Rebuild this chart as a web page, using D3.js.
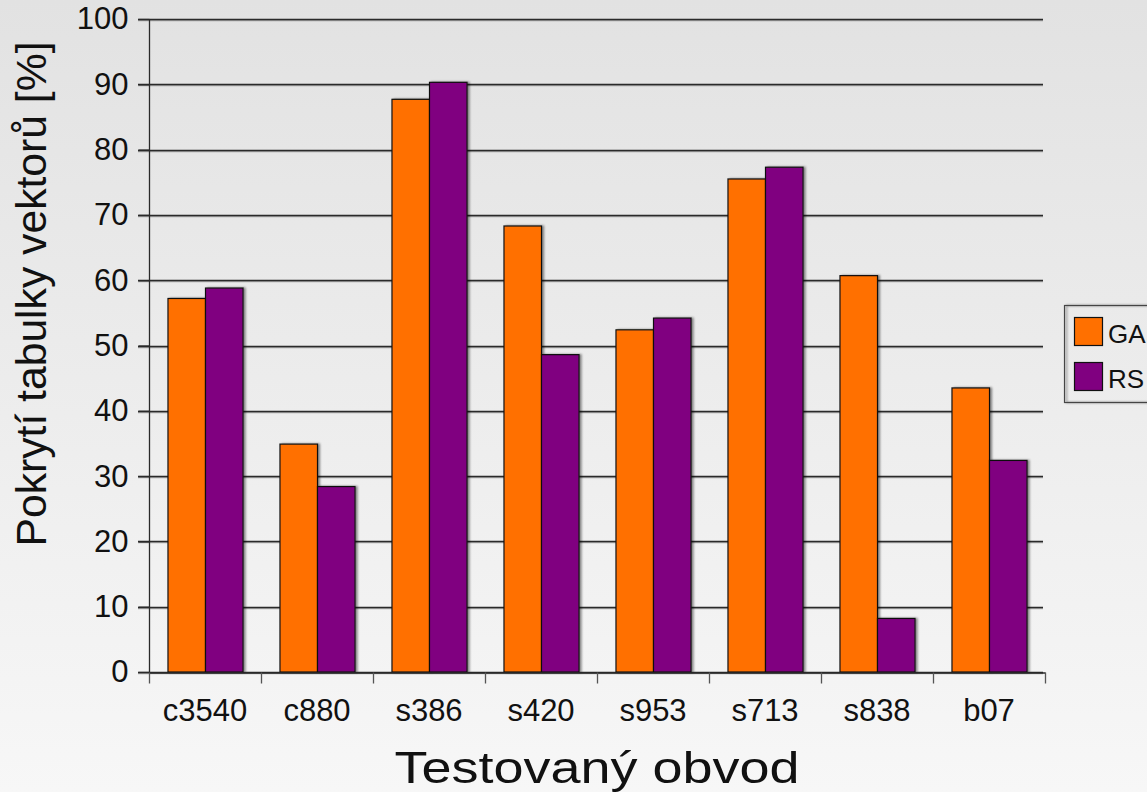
<!DOCTYPE html>
<html>
<head>
<meta charset="utf-8">
<script src="https://cdn.jsdelivr.net/npm/d3@7"></script>
<style>
html,body{margin:0;padding:0;overflow:hidden;}
svg{display:block;font-family:"Liberation Sans",Arial,Helvetica,sans-serif;}
</style>
</head>
<body>
<svg id="chart" width="1147" height="792"></svg>
<script>
const categories = ["c3540","c880","s386","s420","s953","s713","s838","b07"];
const seriesNames = ["GA","RS"];
const gaValues = [57.2, 34.9, 87.7, 68.3, 52.4, 75.5, 60.7, 43.5];
const rsValues = [58.8, 28.4, 90.3, 48.6, 54.2, 77.3, 8.2, 32.4];
const colors = ["#ff7000","#800080"];
const yTicks = [0,10,20,30,40,50,60,70,80,90,100];
const xTitle = "Testovaný obvod";
const yTitle = "Pokrytí tabulky vektorů [%]";

(function(){
const W = 1147, H = 792;
const svg = d3.select("#chart");
const defs = svg.append("defs");
const grad = defs.append("linearGradient").attr("id","bg").attr("x1",0).attr("y1",0).attr("x2",0).attr("y2",1);
grad.append("stop").attr("offset","0%").attr("stop-color","#e2e2e2");
grad.append("stop").attr("offset","100%").attr("stop-color","#f7f7f7");
const f = defs.append("filter").attr("id","sh").attr("x","-20%").attr("y","-20%").attr("width","150%").attr("height","150%");
f.append("feDropShadow").attr("dx",2).attr("dy",0).attr("stdDeviation",0.8).attr("flood-color","#000").attr("flood-opacity",0.45);
const fl = defs.append("filter").attr("id","lsh").attr("x","-5%").attr("y","-20%").attr("width","110%").attr("height","140%");
fl.append("feDropShadow").attr("dx",0).attr("dy",1).attr("stdDeviation",0.6).attr("flood-color","#000").attr("flood-opacity",0.3);

svg.append("rect").attr("width",W).attr("height",H).attr("fill","url(#bg)");

const pl = 149, pr = 1045, pt = 19, pb = 672;
const y = d3.scaleLinear().domain([0,100]).range([pb, pt]);
const x0 = d3.scaleBand().domain(categories).range([pl, pr]).padding(0);
const x1 = d3.scaleBand().domain(seriesNames).range([x0.bandwidth()*0.165, x0.bandwidth()*0.835]).padding(0);

// gridlines
const grid = svg.append("g").attr("filter","url(#lsh)");
grid.selectAll("line").data(yTicks).join("line")
  .attr("x1", pl-11).attr("x2", pr-2)
  .attr("y1", d=>Math.round(y(d))+0.5).attr("y2", d=>Math.round(y(d))+0.5)
  .attr("stroke","#2a2a2a").attr("stroke-width",1.3);

// bars
const data = categories.map((c,i)=>({cat:c, vals:[gaValues[i], rsValues[i]]}));
const groups = svg.append("g").selectAll("g").data(data).join("g")
  .attr("transform", d=>`translate(${x0(d.cat)},0)`);
groups.selectAll("rect").data(d=>d.vals.map((v,j)=>({name:seriesNames[j], v, j})))
  .join("rect")
  .attr("x", d=>x1(d.name)+0.5)
  .attr("width", x1.bandwidth())
  .attr("y", d=>y(d.v))
  .attr("height", d=>y(0)-y(d.v))
  .attr("fill", d=>colors[d.j])
  .attr("stroke","#111").attr("stroke-width",1.2)
  .attr("filter","url(#sh)");

// y axis
const yAxis = d3.axisLeft(y).tickValues(yTicks).tickSize(11).tickPadding(10);
const gy = svg.append("g").attr("transform",`translate(${pl+0.5},0)`).call(yAxis);
gy.select(".domain").attr("stroke","#2a2a2a").attr("stroke-width",1.3).attr("d",`M0,${y(100)}V${y(0)}`);
gy.selectAll(".tick line").attr("stroke","#2a2a2a").attr("stroke-width",1.3);
gy.selectAll(".tick text").attr("font-size",31).attr("fill","#111")
  .attr("font-family","'Liberation Sans',Arial,sans-serif");

// x axis
const xAxis = d3.axisBottom(x0).tickSize(0).tickPadding(26);
const gx = svg.append("g").attr("transform",`translate(0,${pb+0.5})`).call(xAxis);
gx.select(".domain").attr("stroke","#2a2a2a").attr("stroke-width",1.3);
gx.selectAll(".tick text").attr("font-size",31).attr("fill","#111")
  .attr("font-family","'Liberation Sans',Arial,sans-serif");
const bounds = categories.map(c=>x0(c)).concat([pr]);
gx.append("g").selectAll("line").data(bounds).join("line")
  .attr("x1", d=>Math.round(d)+0.5).attr("x2", d=>Math.round(d)+0.5)
  .attr("y1",0).attr("y2",11).attr("stroke","#555").attr("stroke-width",1.3);

// titles
svg.append("text").attr("x", 597).attr("y", 783)
  .attr("text-anchor","middle").attr("font-size",44).attr("fill","#111")
  .attr("textLength",405).attr("lengthAdjust","spacingAndGlyphs").text(xTitle);
svg.append("text").attr("transform",`translate(46,294) rotate(-90)`)
  .attr("text-anchor","middle").attr("font-size",42).attr("fill","#111")
  .attr("textLength",505).attr("lengthAdjust","spacingAndGlyphs").text(yTitle);

// legend
const lg = svg.append("g");
lg.append("rect").attr("x",1064.5).attr("y",305.5).attr("width",120).attr("height",97)
  .attr("fill","none").attr("stroke","#444").attr("stroke-width",1.2).attr("filter","url(#sh)");
const items = lg.selectAll("g.item").data(seriesNames).join("g").attr("class","item")
  .attr("transform",(d,i)=>`translate(1074,${317 + i*45})`);
items.append("rect").attr("x",0.5).attr("y",0.5).attr("width",28).attr("height",28)
  .attr("fill",(d,i)=>colors[i]).attr("stroke","#111").attr("stroke-width",1.2);
items.append("text").attr("x",34).attr("y",26).attr("font-size",26).attr("fill","#111").text(d=>d);
})();
</script>
</body>
</html>
